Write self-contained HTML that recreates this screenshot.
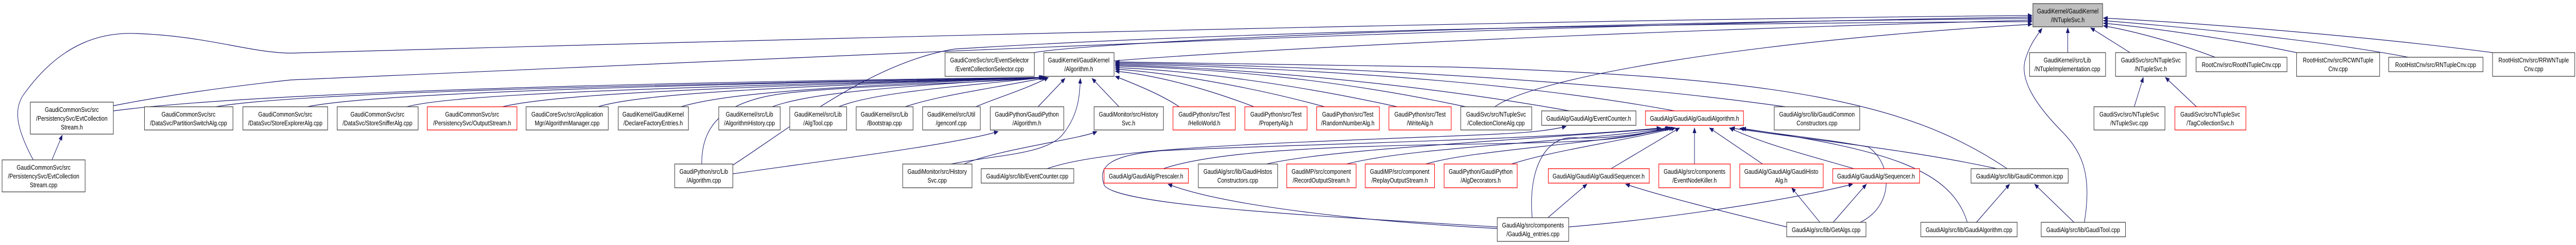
<!DOCTYPE html>
<html><head><meta charset="utf-8"><meta name="viewport" content="width=6204, initial-scale=1"><style>
html,body{margin:0;padding:0;background:#fff;width:100%;height:100%;overflow:hidden;}
svg{display:block;width:100vw;height:100vh;}
text{font-family:"Liberation Sans",sans-serif;font-size:13px;fill:#000;text-anchor:middle;}
.k{fill:#fff;stroke:#404040;stroke-width:1.3;}
.r{fill:#fff;stroke:#ff0000;stroke-width:1.3;}
.g{fill:#bfbfbf;stroke:#404040;stroke-width:1.3;}
path.e{fill:none;stroke:#191970;stroke-width:1.2;marker-end:url(#a);}
</style></head><body>
<svg viewBox="0 0 6204 475" preserveAspectRatio="none" xmlns="http://www.w3.org/2000/svg" overflow="hidden">
<defs><marker id="a" markerWidth="11" markerHeight="9" refX="10" refY="4.5" orient="auto" markerUnits="userSpaceOnUse"><path d="M0,0 L11,4.5 L0,9z" fill="#191970"/></marker></defs>

<path class="e" d="M80,310 C40,250 30,210 60,180 C150,80 250,62 330,65 C500,70 600,102 700,103 C1500,85 3500,40 4894,30"/>
<path class="e" d="M273,205 C400,185 550,168 700,155 C2000,110 3500,50 4894,33"/>
<path class="e" d="M2491,102 C2600,85 3500,45 4894,36"/>
<path class="e" d="M2683,118 C2800,110 3500,70 4894,39"/>
<path class="e" d="M1765,320 C1900,250 2100,120 2300,95 C3000,60 4000,45 4894,42"/>
<path class="e" d="M3600,207 C3700,150 4200,80 4894,47"/>
<path class="e" d="M5020,431 C5040,330 5010,290 4960,250 C4900,200 4860,150 4880,110 C4890,85 4905,70 4918,55"/>
<path class="e" d="M4980,102 L4980,54"/>
<path class="e" d="M5130,102 L5035,54"/>
<path class="e" d="M5335,111 C5250,85 5150,62 5066,50"/>
<path class="e" d="M5531,102 C5400,80 5200,55 5066,45"/>
<path class="e" d="M5800,111 C5600,80 5300,55 5066,40"/>
<path class="e" d="M6003,102 C5700,70 5300,45 5066,35"/>
<path class="e" d="M5140,207 L5162,150"/>
<path class="e" d="M5290,207 L5215,150"/>

<path class="e" d="M273,215 C600,180 1500,160 2512,150"/>
<path class="e" d="M520,207 C700,180 1500,165 2512,150"/>
<path class="e" d="M740,207 C900,180 1600,165 2512,150"/>
<path class="e" d="M980,207 C1100,180 1700,168 2512,150"/>
<path class="e" d="M1210,207 C1350,180 1800,168 2514,150"/>
<path class="e" d="M1440,207 C1550,180 1900,168 2514,150"/>
<path class="e" d="M1640,207 C1750,180 2000,168 2516,150"/>
<path class="e" d="M1860,207 C1950,180 2150,168 2518,150"/>
<path class="e" d="M2020,207 C2100,180 2300,168 2520,150"/>
<path class="e" d="M2180,207 C2260,185 2400,170 2522,150"/>
<path class="e" d="M2350,207 C2400,190 2480,170 2525,150"/>
<path class="e" d="M2500,207 L2565,152"/>
<path class="e" d="M1690,318 C1690,250 1730,195 1900,180 S2400,160 2515,150"/>
<path class="e" d="M2290,318 C2400,300 2520,300 2560,260 C2600,220 2600,180 2602,152"/>
<path class="e" d="M2695,207 L2630,152"/>
<path class="e" d="M2840,207 C2800,185 2740,165 2686,148"/>
<path class="e" d="M3020,207 C2900,170 2780,145 2686,138"/>
<path class="e" d="M3190,207 C3000,165 2800,140 2686,134"/>
<path class="e" d="M3365,207 C3100,160 2850,136 2686,131"/>
<path class="e" d="M3530,207 C3200,150 2900,132 2686,128"/>
<path class="e" d="M3780,215 C3400,160 2950,130 2686,126"/>
<path class="e" d="M4033,215 C3600,150 3000,128 2686,124"/>
<path class="e" d="M4300,207 C3800,150 3100,126 2686,122"/>
<path class="e" d="M4834,327 C4600,200 4300,150 3500,130 C3100,124 2800,122 2686,120"/>

<path class="e" d="M125,310 L150,262"/>
<path class="e" d="M1765,337 C2000,310 2300,280 2404,255"/>
<path class="e" d="M2322,318 C2400,290 2600,270 2642,255"/>
<path class="e" d="M2522,327 C2650,290 3000,280 3300,270 S3700,260 3772,245"/>
<path class="e" d="M2802,327 C2900,300 3100,285 3500,280 S3900,270 4020,248"/>
<path class="e" d="M3050,318 C3200,290 3600,275 4022,248"/>
<path class="e" d="M3243,318 C3400,285 3800,275 4025,248"/>
<path class="e" d="M3434,318 C3550,290 3850,280 4030,248"/>
<path class="e" d="M3640,318 C3750,290 3900,275 4035,248"/>
<path class="e" d="M3880,327 L4045,248"/>
<path class="e" d="M4081,318 L4081,248"/>
<path class="e" d="M4245,318 L4117,248"/>
<path class="e" d="M4465,327 C4350,300 4250,280 4165,248"/>
<path class="e" d="M4809,327 C4600,290 4350,270 4168,248"/>
<path class="e" d="M3690,422 C3680,330 3720,265 3790,267 C3850,270 3950,262 4020,248"/>
<path class="e" d="M4480,431 C4560,400 4560,320 4500,285 C4400,270 4300,262 4190,249"/>
<path class="e" d="M4738,431 C4700,330 4550,290 4195,249"/>
<path class="e" d="M3606,440 C3200,420 2700,400 2660,360 C2640,320 2680,300 2800,292 C3100,280 3700,272 4000,248"/>
<path class="e" d="M3728,422 L3822,357"/>
<path class="e" d="M4303,440 C4150,410 4000,380 3915,357"/>
<path class="e" d="M3606,443 C3300,430 2950,400 2813,357"/>
<path class="e" d="M3778,440 C4000,425 4300,390 4462,357"/>
<path class="e" d="M4383,431 L4315,364"/>
<path class="e" d="M4415,431 L4495,357"/>
<path class="e" d="M4760,431 L4840,357"/>
<path class="e" d="M4995,431 L4900,357"/>

<g>
<rect class="k" x="73" y="198" width="200" height="62"/><text x="173" y="217">GaudiCommonSvc/src</text><text x="173" y="234">/PersistencySvc/EvtCollection</text><text x="173" y="251">Stream.h</text>
<rect class="k" x="5" y="310" width="200" height="62"/><text x="105" y="329">GaudiCommonSvc/src</text><text x="105" y="346">/PersistencySvc/EvtCollection</text><text x="105" y="363">Stream.cpp</text>
<rect class="k" x="348" y="207" width="213" height="45"/><text x="454" y="226">GaudiCommonSvc/src</text><text x="454" y="243">/DataSvc/PartitionSwitchAlg.cpp</text>
<rect class="k" x="585" y="207" width="204" height="45"/><text x="687" y="226">GaudiCommonSvc/src</text><text x="687" y="243">/DataSvc/StoreExplorerAlg.cpp</text>
<rect class="k" x="812" y="207" width="195" height="45"/><text x="909" y="226">GaudiCommonSvc/src</text><text x="909" y="243">/DataSvc/StoreSnifferAlg.cpp</text>
<rect class="r" x="1029" y="207" width="216" height="45"/><text x="1137" y="226">GaudiCommonSvc/src</text><text x="1137" y="243">/PersistencySvc/OutputStream.h</text>
<rect class="k" x="1267" y="207" width="198" height="45"/><text x="1366" y="226">GaudiCoreSvc/src/Application</text><text x="1366" y="243">Mgr/AlgorithmManager.cpp</text>
<rect class="k" x="1489" y="207" width="169" height="45"/><text x="1573" y="226">GaudiKernel/GaudiKernel</text><text x="1573" y="243">/DeclareFactoryEntries.h</text>
<rect class="k" x="1731" y="207" width="148" height="45"/><text x="1805" y="226">GaudiKernel/src/Lib</text><text x="1805" y="243">/AlgorithmHistory.cpp</text>
<rect class="k" x="1902" y="207" width="137" height="45"/><text x="1970" y="226">GaudiKernel/src/Lib</text><text x="1970" y="243">/AlgTool.cpp</text>
<rect class="k" x="2062" y="207" width="137" height="45"/><text x="2130" y="226">GaudiKernel/src/Lib</text><text x="2130" y="243">/Bootstrap.cpp</text>
<rect class="k" x="2222" y="207" width="139" height="45"/><text x="2291" y="226">GaudiKernel/src/Util</text><text x="2291" y="243">/genconf.cpp</text>
<rect class="k" x="2385" y="207" width="177" height="45"/><text x="2473" y="226">GaudiPython/GaudiPython</text><text x="2473" y="243">/Algorithm.h</text>
<rect class="k" x="2635" y="207" width="167" height="45"/><text x="2718" y="226">GaudiMonitor/src/History</text><text x="2718" y="243">Svc.h</text>
<rect class="r" x="2825" y="207" width="150" height="45"/><text x="2900" y="226">GaudiPython/src/Test</text><text x="2900" y="243">/HelloWorld.h</text>
<rect class="r" x="2998" y="207" width="150" height="45"/><text x="3073" y="226">GaudiPython/src/Test</text><text x="3073" y="243">/PropertyAlg.h</text>
<rect class="r" x="3171" y="207" width="151" height="45"/><text x="3246" y="226">GaudiPython/src/Test</text><text x="3246" y="243">/RandomNumberAlg.h</text>
<rect class="r" x="3345" y="207" width="150" height="45"/><text x="3420" y="226">GaudiPython/src/Test</text><text x="3420" y="243">/WriteAlg.h</text>
<rect class="k" x="3518" y="207" width="171" height="45"/><text x="3603" y="226">GaudiSvc/src/NTupleSvc</text><text x="3603" y="243">/CollectionCloneAlg.cpp</text>
<rect class="k" x="3713" y="215" width="227" height="28"/><text x="3826" y="234">GaudiAlg/GaudiAlg/EventCounter.h</text>
<rect class="r" x="3963" y="215" width="236" height="28"/><text x="4081" y="234">GaudiAlg/GaudiAlg/GaudiAlgorithm.h</text>
<rect class="k" x="4273" y="207" width="206" height="45"/><text x="4376" y="226">GaudiAlg/src/lib/GaudiCommon</text><text x="4376" y="243">Constructors.cpp</text>

<rect class="k" x="2276" y="102" width="215" height="46"/><text x="2383" y="121">GaudiCoreSvc/src/EventSelector</text><text x="2383" y="138">/EventCollectionSelector.cpp</text>
<rect class="k" x="2514" y="102" width="169" height="46"/><text x="2598" y="121">GaudiKernel/GaudiKernel</text><text x="2598" y="138">/Algorithm.h</text>
<rect class="k" x="4888" y="102" width="183" height="46"/><text x="4979" y="121">GaudiKernel/src/Lib</text><text x="4979" y="138">/NTupleImplementation.cpp</text>
<rect class="k" x="5095" y="102" width="170" height="46"/><text x="5180" y="121">GaudiSvc/src/NTupleSvc</text><text x="5180" y="138">/NTupleSvc.h</text>
<rect class="k" x="5289" y="111" width="219" height="28"/><text x="5398" y="130">RootCnv/src/RootNTupleCnv.cpp</text>
<rect class="k" x="5531" y="102" width="200" height="46"/><text x="5631" y="121">RootHistCnv/src/RCWNTuple</text><text x="5631" y="138">Cnv.cpp</text>
<rect class="k" x="5753" y="111" width="227" height="28"/><text x="5866" y="130">RootHistCnv/src/RNTupleCnv.cpp</text>
<rect class="k" x="6003" y="102" width="198" height="46"/><text x="6102" y="121">RootHistCnv/src/RRWNTuple</text><text x="6102" y="138">Cnv.cpp</text>
<rect class="g" x="4896" y="7" width="168" height="45"/><text x="4980" y="26">GaudiKernel/GaudiKernel</text><text x="4980" y="43">/INTupleSvc.h</text>
<rect class="k" x="5043" y="207" width="171" height="45"/><text x="5128" y="226">GaudiSvc/src/NTupleSvc</text><text x="5128" y="243">/NTupleSvc.cpp</text>
<rect class="r" x="5238" y="207" width="171" height="45"/><text x="5323" y="226">GaudiSvc/src/NTupleSvc</text><text x="5323" y="243">/TagCollectionSvc.h</text>

<rect class="k" x="1625" y="318" width="140" height="46"/><text x="1695" y="337">GaudiPython/src/Lib</text><text x="1695" y="354">/Algorithm.cpp</text>
<rect class="k" x="2174" y="318" width="167" height="46"/><text x="2257" y="337">GaudiMonitor/src/History</text><text x="2257" y="354">Svc.cpp</text>
<rect class="k" x="2363" y="327" width="223" height="28"/><text x="2474" y="346">GaudiAlg/src/lib/EventCounter.cpp</text>
<rect class="r" x="2659" y="327" width="203" height="28"/><text x="2760" y="346">GaudiAlg/GaudiAlg/Prescaler.h</text>
<rect class="k" x="2886" y="318" width="191" height="46"/><text x="2981" y="337">GaudiAlg/src/lib/GaudiHistos</text><text x="2981" y="354">Constructors.cpp</text>
<rect class="r" x="3099" y="318" width="167" height="46"/><text x="3182" y="337">GaudiMP/src/component</text><text x="3182" y="354">/RecordOutputStream.h</text>
<rect class="r" x="3288" y="318" width="167" height="46"/><text x="3371" y="337">GaudiMP/src/component</text><text x="3371" y="354">/ReplayOutputStream.h</text>
<rect class="r" x="3478" y="318" width="176" height="46"/><text x="3566" y="337">GaudiPython/GaudiPython</text><text x="3566" y="354">/AlgDecorators.h</text>
<rect class="r" x="3729" y="327" width="243" height="28"/><text x="3850" y="346">GaudiAlg/GaudiAlg/GaudiSequencer.h</text>
<rect class="r" x="3995" y="318" width="172" height="46"/><text x="4081" y="337">GaudiAlg/src/components</text><text x="4081" y="354">/EventNodeKiller.h</text>
<rect class="r" x="4190" y="318" width="201" height="46"/><text x="4290" y="337">GaudiAlg/GaudiAlg/GaudiHisto</text><text x="4290" y="354">Alg.h</text>
<rect class="r" x="4414" y="327" width="209" height="28"/><text x="4518" y="346">GaudiAlg/GaudiAlg/Sequencer.h</text>
<rect class="k" x="4747" y="327" width="234" height="28"/><text x="4864" y="346">GaudiAlg/src/lib/GaudiCommon.icpp</text>

<rect class="k" x="3606" y="422" width="172" height="46"/><text x="3692" y="441">GaudiAlg/src/components</text><text x="3692" y="458">/GaudiAlg_entries.cpp</text>
<rect class="k" x="4303" y="431" width="191" height="28"/><text x="4398" y="450">GaudiAlg/src/lib/GetAlgs.cpp</text>
<rect class="k" x="4626" y="431" width="232" height="28"/><text x="4742" y="450">GaudiAlg/src/lib/GaudiAlgorithm.cpp</text>
<rect class="k" x="4916" y="431" width="203" height="28"/><text x="5017" y="450">GaudiAlg/src/lib/GaudiTool.cpp</text>
</g>
</svg>
</body></html>
